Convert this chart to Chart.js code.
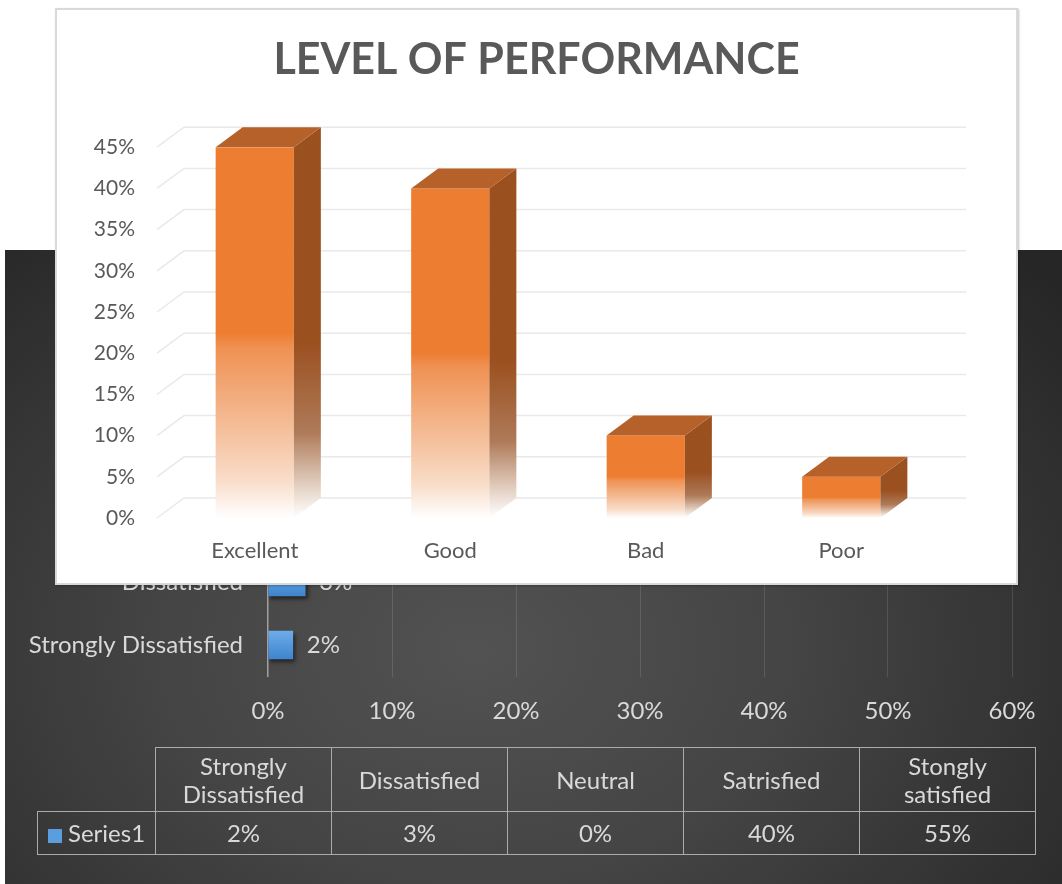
<!DOCTYPE html>
<html><head><meta charset="utf-8">
<script src="https://cdn.jsdelivr.net/npm/chart.js@4.4.1/dist/chart.umd.min.js"></script>
<style>
html,body{margin:0;padding:0;background:#fff;width:1062px;height:884px;overflow:hidden;font-family:Lato,sans-serif;}
#dark{position:absolute;left:5px;top:250px;width:1057px;height:634px;
 background:radial-gradient(ellipse 760px 560px at 470px 400px,#525252 0%,#454545 40%,#333 75%,#262626 100%);}
#darkCanvas{position:absolute;left:5px;top:250px;}
#card{position:absolute;left:55px;top:8px;width:959px;height:573px;border:2px solid #D9D9D9;background:#fff;box-shadow:1px 1px 2px rgba(0,0,0,0.25);}
#frontCanvas{position:absolute;left:0;top:0;}
#tbl{position:absolute;left:37px;top:747px;border-collapse:collapse;table-layout:fixed;width:998px;color:#D9D9D9;font-family:Lato,sans-serif;font-size:24px;}
#tbl td{border:1px solid #ABABAB;text-align:center;padding:0;line-height:28px;white-space:nowrap;}
#tbl td.corner{border-top:none;border-left:none;}
#tbl td.ser{text-align:left;padding-left:10px;}
#tbl .key{display:inline-block;width:14px;height:14px;background:#5A9EE0;margin-right:6px;vertical-align:-1px;}
</style></head>
<body>
<div id="dark"></div>
<canvas id="darkCanvas" width="1057" height="634"></canvas>
<table id="tbl"></table>
<div id="card"><canvas id="frontCanvas" width="959" height="573"></canvas></div>
<script>
// ---------- data ----------
const perfTitle = 'LEVEL OF PERFORMANCE';
const perfCategories = ['Excellent', 'Good', 'Bad', 'Poor'];
const perfValues = [0.45, 0.40, 0.10, 0.05];

const satCategories = ['Strongly Dissatisfied', 'Dissatisfied', 'Neutral', 'Satrisfied', 'Stongly satisfied'];
const satHeaderLabels = [['Strongly', 'Dissatisfied'], ['Dissatisfied'], ['Neutral'], ['Satrisfied'], ['Stongly', 'satisfied']];
const satValues = [0.02, 0.03, 0.00, 0.40, 0.55];
const seriesName = 'Series1';

const pct = v => Math.round(v * 100) + '%';

// ---------- back (dark) chart ----------
const LIGHT = '#D9D9D9';
const shadowPlugin = {
  id: 'shadow',
  beforeDatasetsDraw(chart) { const c = chart.ctx; c.save(); c.shadowColor = 'rgba(0,0,0,0.55)'; c.shadowOffsetX = 2; c.shadowOffsetY = 3; c.shadowBlur = 4; },
  afterDatasetsDraw(chart) { chart.ctx.restore(); }
};
const valueLabels = {
  id: 'valueLabels',
  afterDatasetsDraw(chart) {
    const c = chart.ctx; const meta = chart.getDatasetMeta(0);
    c.save(); c.fillStyle = LIGHT; c.font = '24px Lato'; c.textAlign = 'left'; c.textBaseline = 'middle';
    meta.data.forEach((b, i) => { c.fillText(pct(satValues[i]), b.x + 14, b.y); });
    c.restore();
  }
};
new Chart(document.getElementById('darkCanvas'), {
  type: 'bar',
  data: { labels: satCategories, datasets: [{ label: seriesName, data: satValues, barThickness: 28, borderWidth: 0,
    backgroundColor: (ctx) => {
      const ch = ctx.chart; if (!ch.chartArea || !ch.scales.y) return '#5B9BD5';
      const yc = ch.scales.y.getPixelForValue(ctx.dataIndex);
      const g = ch.ctx.createLinearGradient(0, yc - 14, 0, yc + 14);
      g.addColorStop(0, '#6EADE8'); g.addColorStop(0.5, '#5598DC'); g.addColorStop(1, '#3F84CC');
      return g;
    } }] },
  options: {
    indexAxis: 'y', responsive: false, animation: false, devicePixelRatio: 1,
    layout: { padding: { left: 0, right: 50, top: 111.5, bottom: 147.5 } },
    plugins: { legend: { display: false }, tooltip: { enabled: false } },
    scales: {
      x: { min: 0, max: 0.6,
        ticks: { stepSize: 0.1, color: LIGHT, font: { family: 'Lato', size: 24 }, padding: 20, callback: v => pct(v) },
        grid: { drawTicks: false, color: c => c.index === 0 ? '#A0A0A0' : 'rgba(255,255,255,0.12)', lineWidth: c => c.index === 0 ? 1.5 : 1 },
        border: { display: false },
        afterFit: s => { s.height = 60; } },
      y: { reverse: true, grid: { display: false, drawTicks: false }, border: { display: false },
        ticks: { color: LIGHT, font: { family: 'Lato', size: 24 }, padding: 25 },
        afterFit: s => { s.width = 263; } }
    }
  },
  plugins: [shadowPlugin, valueLabels]
});

// ---------- data table ----------
(function () {
  const t = document.getElementById('tbl');
  let h = '<colgroup><col style="width:118px">' + satCategories.map(() => '<col style="width:176px">').join('') + '</colgroup>';
  h += '<tr style="height:64px"><td class="corner"></td>' + satHeaderLabels.map(l => '<td>' + l.join('<br>') + '</td>').join('') + '</tr>';
  h += '<tr style="height:43px"><td class="ser"><span class="key"></span>' + seriesName + '</td>' + satValues.map(v => '<td>' + pct(v) + '</td>').join('') + '</tr>';
  t.innerHTML = h;
})();

// ---------- front (3D column) chart ----------
const DX = 27, DY = -20;
const ORANGE = '#ED7D31', TOPC = '#B6602A', SIDEC = '#9B5020', GRID = '#E9E9E9', TXT = '#595959';
const grid3d = {
  id: 'grid3d',
  beforeDatasetsDraw(chart) {
    const c = chart.ctx, ys = chart.scales.y, a = chart.chartArea;
    c.save(); c.strokeStyle = GRID; c.lineWidth = 1.5;
    ys.ticks.forEach(t => {
      const y = ys.getPixelForValue(t.value);
      c.beginPath(); c.moveTo(a.left, y); c.lineTo(a.left + DX, y + DY); c.lineTo(a.right + DX, y + DY); c.stroke();
    });
    c.restore();
  }
};
const bars3d = {
  id: 'bars3d',
  afterDatasetsDraw(chart) {
    const c = chart.ctx; const meta = chart.getDatasetMeta(0);
    c.save();
    meta.data.forEach(b => {
      const { x, y, base, width } = b.getProps(['x', 'y', 'base', 'width'], true);
      const l = x - width / 2, r = x + width / 2;
      const g = c.createLinearGradient(0, y + DY, 0, base);
      g.addColorStop(0, SIDEC); g.addColorStop(0.55, SIDEC); g.addColorStop(0.78, '#AE7A58'); g.addColorStop(0.93, '#E8D8CC'); g.addColorStop(1, '#FFFFFF');
      c.fillStyle = g;
      c.beginPath(); c.moveTo(r, y); c.lineTo(r + DX, y + DY); c.lineTo(r + DX, base + DY); c.lineTo(r, base); c.closePath(); c.fill();
      c.fillStyle = TOPC;
      c.beginPath(); c.moveTo(l, y); c.lineTo(l + DX, y + DY); c.lineTo(r + DX, y + DY); c.lineTo(r, y); c.closePath(); c.fill();
    });
    c.restore();
  }
};
new Chart(document.getElementById('frontCanvas'), {
  type: 'bar',
  data: { labels: perfCategories, datasets: [{ data: perfValues, borderWidth: 0, categoryPercentage: 1, barPercentage: 0.4,
    backgroundColor: (ctx) => {
      const ch = ctx.chart; if (!ch.chartArea || !ch.scales.y) return ORANGE;
      const top = ch.scales.y.getPixelForValue(ctx.raw), bot = ch.scales.y.getPixelForValue(0);
      const g = ch.ctx.createLinearGradient(0, top, 0, bot);
      g.addColorStop(0, ORANGE); g.addColorStop(0.5, ORANGE); g.addColorStop(0.54, '#EF9152');
      g.addColorStop(0.67, '#F2AC7D'); g.addColorStop(0.78, '#F5C3A1'); g.addColorStop(0.9, '#F9DDCA'); g.addColorStop(1, '#FFFFFF');
      return g;
    } }] },
  options: {
    responsive: false, animation: false, devicePixelRatio: 1,
    layout: { padding: { left: 0, right: 0, top: 0, bottom: 0 } },
    plugins: { legend: { display: false }, tooltip: { enabled: false },
      title: { display: true, text: perfTitle, color: TXT, font: { family: 'Lato', size: 43, weight: 'bold', lineHeight: 1.2 }, padding: { top: 24.5, bottom: 61.1 } } },
    scales: {
      x: { grid: { display: false, drawTicks: false }, border: { display: false },
        ticks: { color: TXT, font: { family: 'Lato', size: 22 }, padding: 20 }, afterFit: s => { s.height = 65; } },
      y: { min: 0, max: 0.45, grid: { display: false, drawTicks: false }, border: { display: false },
        ticks: { stepSize: 0.05, color: TXT, font: { family: 'Lato', size: 21 }, padding: 22, callback: v => pct(v) },
        afterFit: s => { s.width = 100; } },
      yR: { position: 'right', display: true, grid: { display: false, drawTicks: false }, border: { display: false },
        ticks: { display: false }, afterFit: s => { s.width = 77; } }
    }
  },
  plugins: [grid3d, bars3d]
});
</script>
</body></html>
